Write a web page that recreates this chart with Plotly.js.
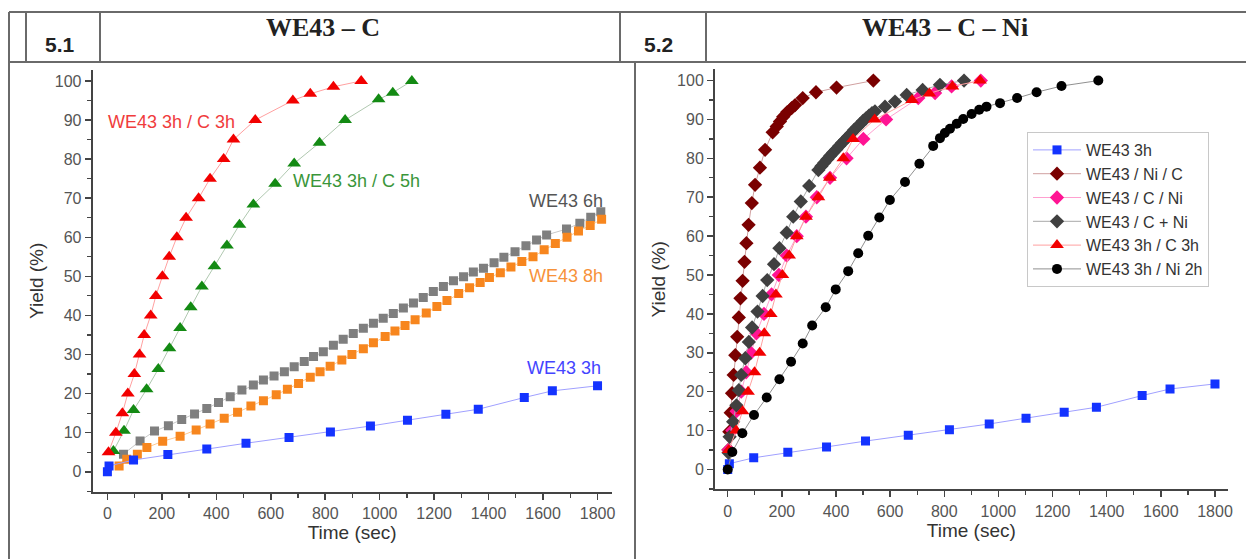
<!DOCTYPE html>
<html>
<head>
<meta charset="utf-8">
<script src="https://cdn.plot.ly/plotly-3.0.1.min.js"></script>
<style>
  html, body { margin: 0; padding: 0; background: #fff; }
  #chart { width: 1246px; height: 559px; }
</style>
</head>
<body>
<div id="chart"></div>
<script>
// ---------------- DATA ----------------
// Panel 5.1 : WE43 – C
const tWE43_3h = [0, 6, 96, 222, 365, 509, 667, 819, 966, 1102, 1243, 1362, 1531, 1634, 1800];
const yWE43_3h = [0, 1.5, 3.0, 4.4, 5.8, 7.3, 8.8, 10.2, 11.7, 13.2, 14.7, 16.0, 19.0, 20.7, 22.0];

const tC3h = [4, 31, 55, 75, 99, 118, 135, 159, 178, 202, 227, 255, 289, 335, 377, 427, 463, 543, 681, 745, 830, 932];
const yC3h = [5, 10, 15, 20, 25, 30, 35, 40, 45, 50, 55, 60, 65, 70, 75, 80, 85, 90, 95, 96.7, 98.5, 100];

const tC5h = [22, 61, 96, 144, 187, 228, 267, 306, 347, 393, 439, 485, 536, 616, 686, 779, 873, 996, 1048, 1118];
const yC5h = [5.3, 10.5, 15.8, 21.1, 26.3, 31.6, 36.8, 42.1, 47.4, 52.6, 57.9, 63.2, 68.4, 73.7, 78.9, 84.2, 90, 95.3, 97, 100];

const t6h = [59, 120, 173, 224, 273, 320, 365, 408, 451, 494, 536, 573, 612, 650, 686, 723, 757, 793, 830, 866, 903, 940, 977, 1013, 1050, 1087, 1124, 1160, 1197, 1234, 1271, 1308, 1344, 1381, 1420, 1456, 1497, 1537, 1576, 1613, 1686, 1735, 1775, 1812];
const y6h = [4.5, 7.9, 10.4, 11.8, 13.4, 14.8, 16.2, 17.7, 19.2, 20.9, 22.2, 23.5, 24.5, 25.6, 26.9, 28.2, 29.5, 30.7, 32.4, 33.9, 35.4, 36.7, 38.0, 39.3, 40.5, 41.9, 43.2, 44.6, 46.1, 47.4, 48.9, 49.9, 51.1, 52.1, 53.5, 54.9, 56.3, 57.8, 59.3, 60.6, 62.1, 63.6, 65.1, 66.5];

const t8h = [43, 71, 110, 145, 203, 267, 326, 377, 429, 478, 527, 573, 620, 661, 702, 745, 781, 818, 861, 898, 940, 977, 1020, 1056, 1093, 1130, 1171, 1210, 1247, 1290, 1330, 1369, 1403, 1443, 1482, 1522, 1563, 1604, 1645, 1688, 1730, 1773, 1815];
const y8h = [1.5, 3.2, 4.5, 6.2, 7.8, 9.1, 10.7, 12.2, 13.7, 15.2, 16.8, 18.2, 19.7, 21.1, 22.6, 24.2, 25.6, 27.0, 28.6, 30.0, 31.5, 33.0, 34.6, 36.0, 37.4, 38.9, 40.6, 42.3, 43.8, 45.6, 47.1, 48.4, 49.7, 50.9, 52.4, 53.8, 55.0, 56.8, 58.4, 60.0, 61.6, 63.0, 64.6];

// Panel 5.2 : WE43 – C – Ni
const tNiC = [3, 6, 11, 16, 22, 28, 35, 41, 47, 55, 62, 69, 77, 89, 101, 119, 138, 166, 181, 193, 205, 220, 236, 249, 277, 326, 402, 538];
const yNiC = [5.1, 9.7, 14.6, 19.6, 24.3, 29.4, 34.1, 39.1, 44.0, 48.5, 53.4, 58.2, 62.9, 68.5, 73.2, 77.6, 82.2, 86.7, 88.2, 89.5, 90.7, 91.9, 92.9, 93.7, 95.5, 97.0, 98.2, 100];

const tCNi = [3, 17, 33, 50, 68, 86, 106, 134, 162, 189, 218, 255, 289, 329, 378, 439, 501, 585, 704, 766, 827, 935];
const yCNi = [5, 10, 15, 20, 25, 30, 35, 40, 45, 50, 55, 60, 65, 70, 75, 80, 85, 90, 95.5, 96.8, 98.5, 100];

const tCplusNi = [3, 7, 20, 32, 41, 50, 65, 78, 90, 110, 129, 146, 171, 191, 218, 242, 270, 301, 335, 346, 357, 368, 379, 390, 401, 412, 423, 434, 445, 456, 467, 478, 489, 500, 511, 522, 533, 544, 581, 618, 661, 720, 784, 873];
const yCplusNi = [4.3, 8.4, 12.3, 16.5, 20.4, 24.3, 28.6, 32.8, 36.5, 40.6, 44.6, 48.7, 52.8, 56.9, 60.9, 65.0, 68.9, 72.9, 77.0, 78.0, 78.9, 79.8, 80.7, 81.5, 82.3, 83.2, 84.0, 84.8, 85.6, 86.4, 87.3, 88.0, 88.8, 89.6, 90.3, 91.0, 91.6, 92.1, 93.3, 94.6, 96.3, 97.6, 98.9, 100];

const tNi2h = [0, 17, 54, 97, 144, 191, 234, 277, 312, 362, 399, 445, 482, 519, 560, 599, 655, 708, 759, 784, 802, 821, 846, 870, 901, 929, 956, 1006, 1069, 1141, 1233, 1369];
const yNi2h = [0, 4.5, 9.3, 14.0, 18.5, 23.2, 27.7, 32.4, 37.0, 41.7, 46.3, 51.0, 55.6, 60.1, 64.8, 69.3, 73.9, 78.6, 83.2, 85.2, 86.5, 87.6, 88.9, 90.1, 91.4, 92.5, 93.3, 94.2, 95.5, 97.0, 98.6, 100];

const names52 = ["WE43 3h", "WE43 / Ni / C", "WE43 / C / Ni", "WE43 / C + Ni", "WE43 3h / C 3h", "WE43 3h / Ni 2h"];
const panelNums = ["5.1", "5.2"];
const panelTitles = ["WE43 – C", "WE43 – C – Ni"];
const labels51 = ["WE43 3h / C 3h", "WE43 3h / C 5h", "WE43 6h", "WE43 8h", "WE43 3h"];

// ---------------- LAYOUT HELPERS ----------------
const W = 1246, H = 559;
const fx = x => x / W;
const fy = y => 1 - y / H;
const FONT = "Liberation Sans, Arial, sans-serif";

function sc(x, y, name, sym, size, mcol, lcol, xa, ya, show) {
  return {
    type: "scatter", mode: "lines+markers", x: x, y: y, name: name,
    xaxis: xa, yaxis: ya, showlegend: show,
    marker: { symbol: sym, size: size, color: mcol, line: { width: 0 } },
    line: { color: lcol, width: 1 }
  };
}

const traces = [
  sc(t6h, y6h, "WE43 6h", "square", 9, "#7f7f7f", "#c8c8c8", "x", "y", false),
  sc(t8h, y8h, "WE43 8h", "square", 9, "#f7861e", "#ffc890", "x", "y", false),
  sc(tWE43_3h, yWE43_3h, "WE43 3h", "square", 9, "#1433ff", "#a0a0ff", "x", "y", false),
  sc(tC5h, yC5h, "WE43 3h / C 5h", "triangle-up", 12, "#138a13", "#b0c8b0", "x", "y", false),
  sc(tC3h, yC3h, "WE43 3h / C 3h", "triangle-up", 12, "#f20000", "#ffa0a0", "x", "y", false),

  sc(tWE43_3h, yWE43_3h, names52[0], "square", 9, "#1433ff", "#a0a0ff", "x2", "y2", true),
  sc(tNiC, yNiC, names52[1], "diamond", 11, "#7a0000", "#d0a0a0", "x2", "y2", true),
  sc(tCNi, yCNi, names52[2], "diamond", 11, "#ff1493", "#ffa0d0", "x2", "y2", true),
  sc(tCplusNi, yCplusNi, names52[3], "diamond", 11, "#404040", "#a8a8a8", "x2", "y2", true),
  sc(tC3h, yC3h, names52[4], "triangle-up", 12, "#f20000", "#ffa0a0", "x2", "y2", true),
  sc(tNi2h, yNi2h, names52[5], "circle", 10, "#000000", "#909090", "x2", "y2", true)
];

function xAxis(domain, range, anchor) {
  return {
    domain: domain, range: range, anchor: anchor,
    tick0: 0, dtick: 200, ticks: "outside", ticklen: 6, tickwidth: 1.5, tickcolor: "#444",
    minor: { dtick: 100, ticks: "outside", ticklen: 4, tickwidth: 1.2, tickcolor: "#444", showgrid: false },
    showline: true, linewidth: 2, linecolor: "#444", mirror: false,
    showgrid: false, zeroline: false,
    tickfont: { family: FONT, size: 16, color: "#555" },
    title: { text: "Time (sec)", font: { family: FONT, size: 19, color: "#333" }, standoff: 5 }
  };
}
function yAxis(domain, range, anchor) {
  return {
    domain: domain, range: range, anchor: anchor,
    tick0: 0, dtick: 10, ticks: "outside", ticklen: 6, tickwidth: 1.5, tickcolor: "#444",
    minor: { dtick: 5, ticks: "outside", ticklen: 4, tickwidth: 1.2, tickcolor: "#444", showgrid: false },
    showline: true, linewidth: 2, linecolor: "#444",
    showgrid: false, zeroline: false,
    tickfont: { family: FONT, size: 16, color: "#555" },
    title: { text: "Yield (%)", font: { family: FONT, size: 19, color: "#333" }, standoff: 6 }
  };
}

const lineCol = "#6a6a6a";
function seg(x0, y0, x1, y1) {
  return { type: "line", xref: "paper", yref: "paper", x0: fx(x0), y0: fy(y0), x1: fx(x1), y1: fy(y1),
           line: { color: lineCol, width: 2 } };
}
const shapes = [
  seg(9, 12, 1246, 12),
  seg(9, 62, 1246, 62),
  seg(9, 12, 9, 559),
  seg(26, 12, 26, 62),
  seg(100, 12, 100, 62),
  seg(620, 12, 620, 62),
  seg(706, 12, 706, 62),
  seg(635, 62, 635, 559)
];

function paperText(text, x, y, font) {
  return { text: text, xref: "paper", yref: "paper", x: fx(x), y: fy(y),
           xanchor: "center", yanchor: "middle", showarrow: false, font: font };
}
const numFont = { family: "Liberation Sans, Arial, sans-serif", size: 21, color: "#222", weight: "bold" };
const titleFont = { family: "Liberation Serif, Times New Roman, serif", size: 26, color: "#222", weight: "bold" };

function dataText(text, x, y, anchor, color) {
  return { text: text, xref: "x", yref: "y", x: x, y: y, xanchor: anchor, yanchor: "middle",
           showarrow: false, font: { family: FONT, size: 18, color: color } };
}

const annotations = [
  paperText("<b>" + panelNums[0] + "</b>", 60, 45, numFont),
  paperText("<b>" + panelTitles[0] + "</b>", 323, 28, titleFont),
  paperText("<b>" + panelNums[1] + "</b>", 658, 45, numFont),
  paperText("<b>" + panelTitles[1] + "</b>", 945, 28, titleFont),
  dataText(labels51[0], 235, 89.5, "center", "#f03c3c"),
  dataText(labels51[1], 915, 74.4, "center", "#3a963a"),
  dataText(labels51[2], 1827, 69.3, "right", "#555555"),
  dataText(labels51[3], 1827, 50.1, "right", "#f7923a"),
  dataText(labels51[4], 1820, 26.5, "right", "#4444ff")
];

const layout = {
  width: W, height: H,
  margin: { l: 0, r: 0, t: 0, b: 0 },
  paper_bgcolor: "#ffffff", plot_bgcolor: "#ffffff",
  font: { family: FONT },
  xaxis: xAxis([fx(92.7), fx(611.7)], [-54, 1852], "y"),
  yaxis: yAxis([fy(491.7), fy(70)], [-5.1, 102.8], "x"),
  xaxis2: xAxis([fx(715), fx(1227.7)], [-47, 1847], "y2"),
  yaxis2: yAxis([fy(489.3), fy(69.3)], [-5.1, 102.9], "x2"),
  showlegend: true,
  legend: {
    x: fx(1027), y: fy(132), xanchor: "left", yanchor: "top",
    bgcolor: "#ffffff", bordercolor: "#c8c8c8", borderwidth: 1,
    itemwidth: 48, tracegroupgap: 0,
    font: { family: FONT, size: 16, color: "#333" }
  },
  shapes: shapes,
  annotations: annotations
};

Plotly.newPlot("chart", traces, layout, { displayModeBar: false, staticPlot: true });
</script>
</body>
</html>
